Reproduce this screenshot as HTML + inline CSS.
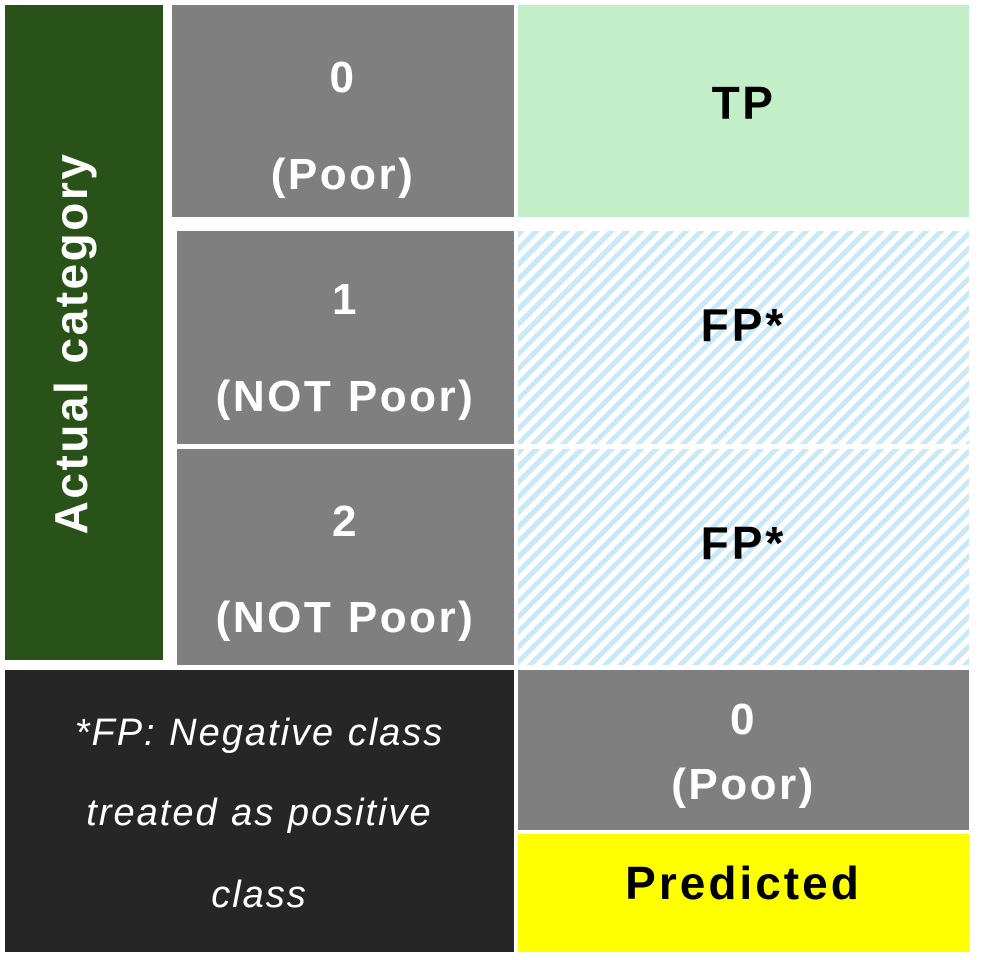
<!DOCTYPE html>
<html><head><meta charset="utf-8"><style>
body{margin:0;width:981px;height:960px;background:#fff;position:relative;overflow:hidden;font-family:"Liberation Sans",sans-serif}
div.b{position:absolute;box-sizing:border-box}
div.t{position:absolute;left:0;right:0;height:0;display:flex;align-items:center;justify-content:center;white-space:nowrap;font-weight:bold;font-size:44px;letter-spacing:2.5px}
.g{background:#7f7f7f;color:#fff}
.s{background:repeating-linear-gradient(135deg,#c9e8f8 0 5px,#fff 5px 10.6px);color:#000}
</style></head><body>
<div class="b" style="left:5px;top:5px;width:158px;height:655px;background:#285218;color:#fff">
<div class="t" style="top:338px;left:-200px;right:-200px;transform:translateX(-13px) rotate(-90deg);font-size:46px">Actual category</div></div>
<div class="b g" style="left:172px;top:5px;width:342px;height:212px"><div class="t" style="top:73px">0</div><div class="t" style="top:170px">(Poor)</div></div>
<div class="b g" style="left:177px;top:231px;width:337px;height:213px"><div class="t" style="top:69px">1</div><div class="t" style="top:166px">(NOT Poor)</div></div>
<div class="b g" style="left:177px;top:449px;width:337px;height:216px"><div class="t" style="top:73px">2</div><div class="t" style="top:169px">(NOT Poor)</div></div>
<div class="b" style="left:518px;top:5px;width:451px;height:212px;background:#c3efc8"><div class="t" style="top:98px;font-size:46px">TP</div></div>
<div class="b s" style="left:518px;top:231px;width:451px;height:213px"><div class="t" style="top:94px;font-size:46px;letter-spacing:3px">FP*</div></div>
<div class="b s" style="left:518px;top:449px;width:451px;height:216px"><div class="t" style="top:94px;font-size:46px;letter-spacing:3px">FP*</div></div>
<div class="b" style="left:5px;top:670px;width:509px;height:282px;background:#262626;color:#fff">
<div class="t" style="top:63px;font-weight:normal;font-style:italic;font-size:38px;letter-spacing:2px">*FP: Negative class</div>
<div class="t" style="top:143px;font-weight:normal;font-style:italic;font-size:38px;letter-spacing:2px">treated as positive</div>
<div class="t" style="top:225px;font-weight:normal;font-style:italic;font-size:38px;letter-spacing:2px">class</div></div>
<div class="b g" style="left:518px;top:670px;width:451px;height:160px"><div class="t" style="top:50px">0</div><div class="t" style="top:115px">(Poor)</div></div>
<div class="b" style="left:518px;top:834px;width:451px;height:118px;background:#ffff00"><div class="t" style="top:49px;font-size:46px;letter-spacing:3px">Predicted</div></div>
</body></html>
